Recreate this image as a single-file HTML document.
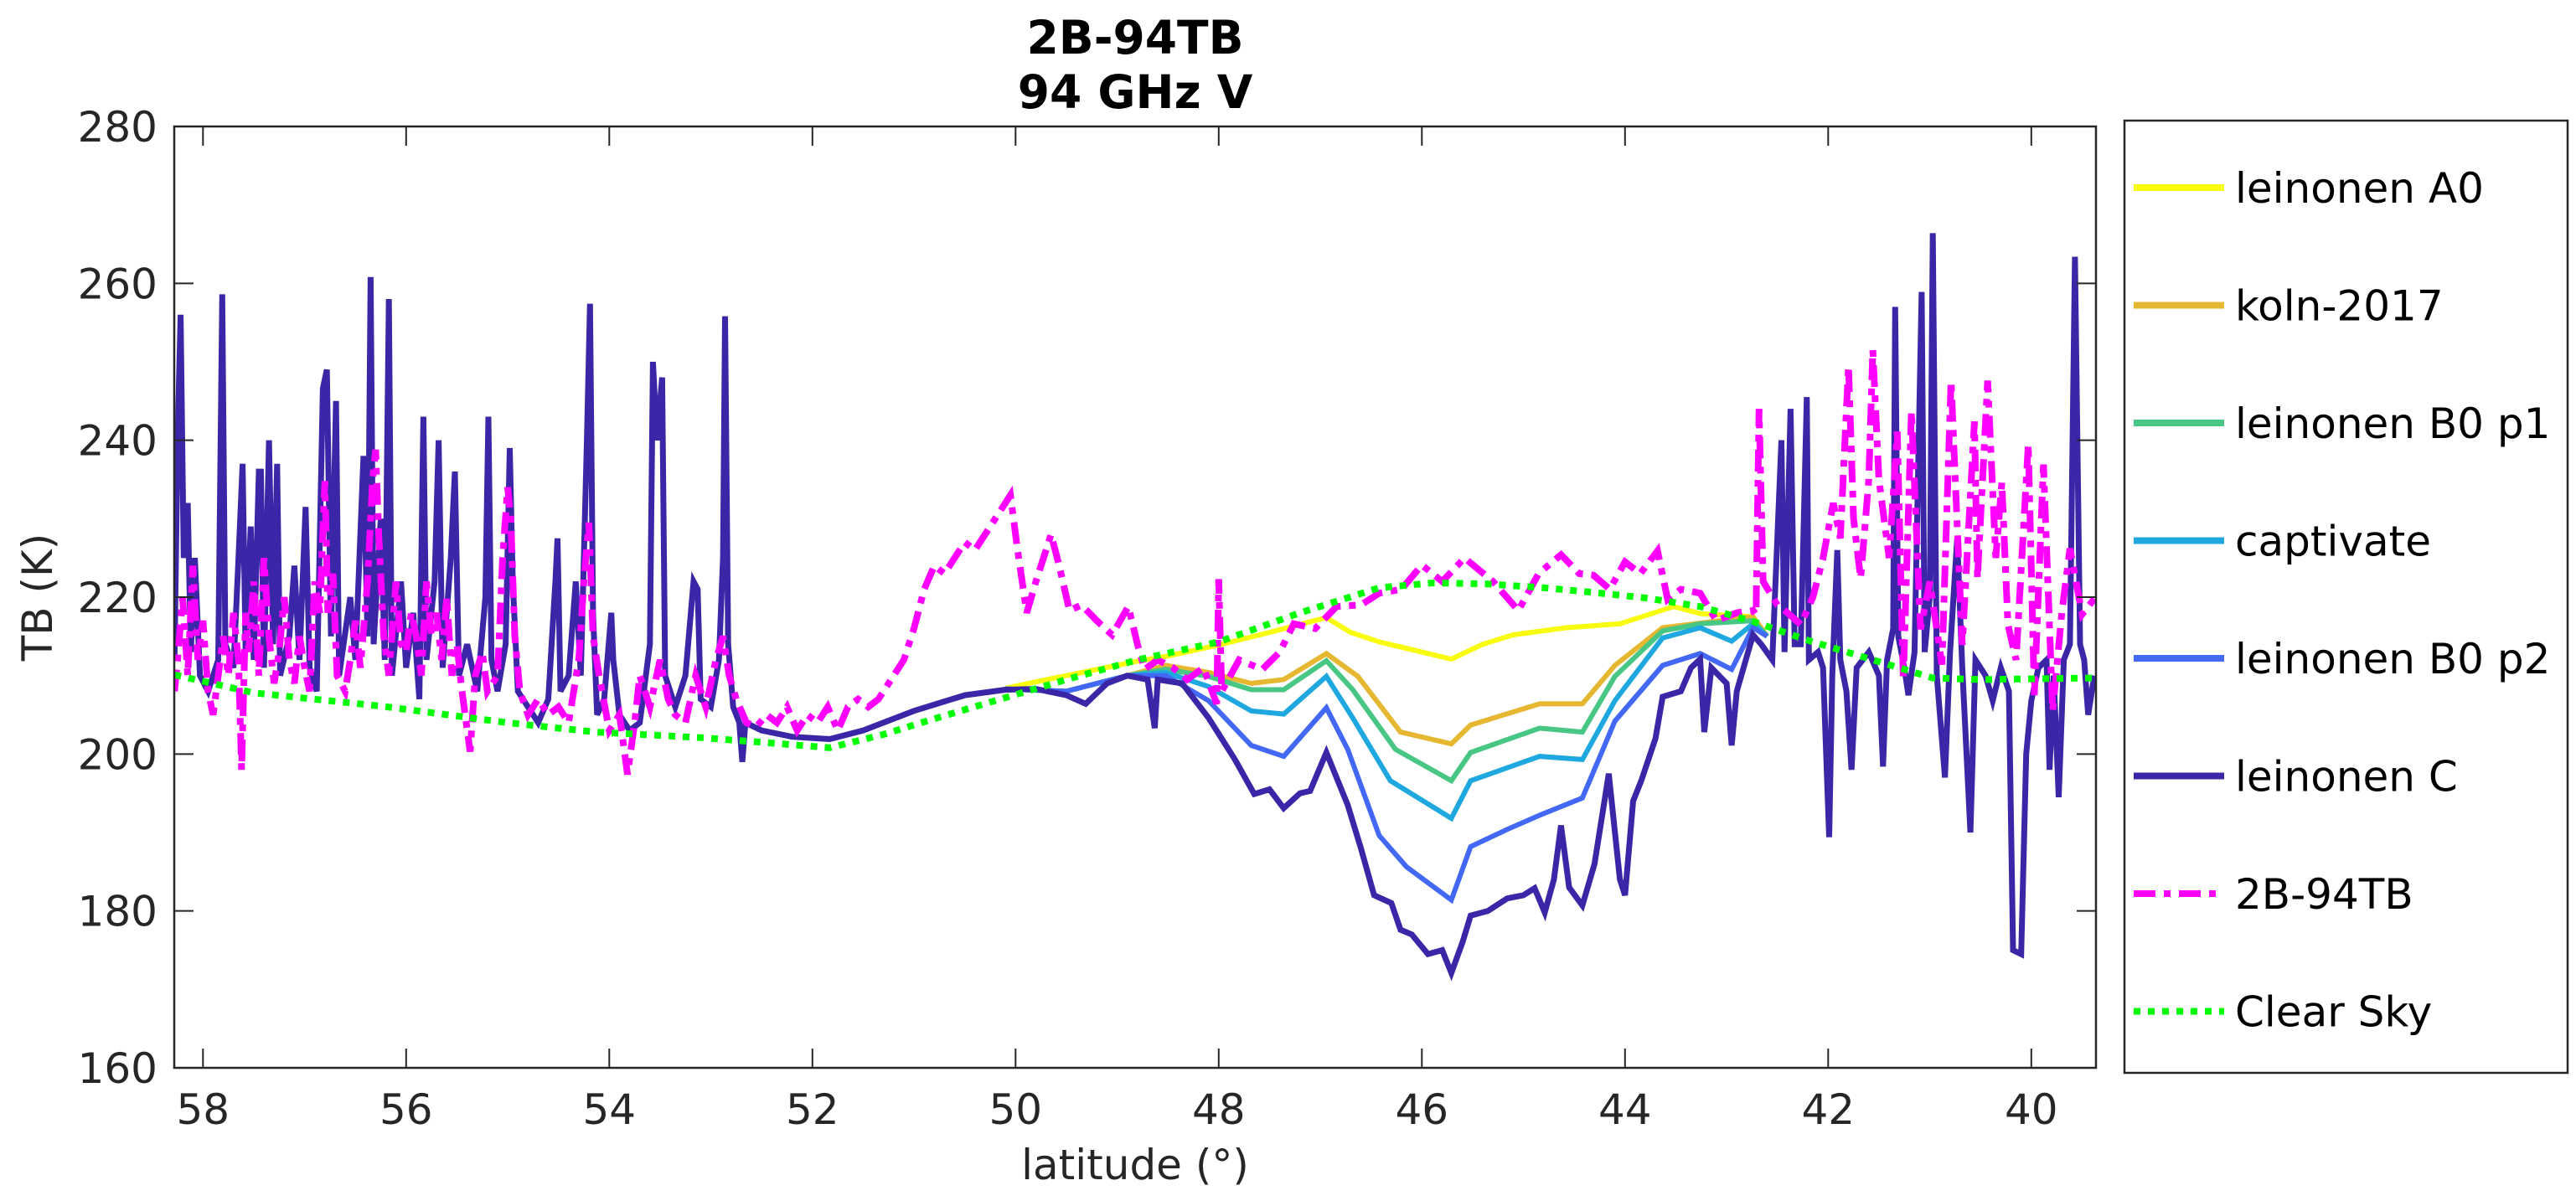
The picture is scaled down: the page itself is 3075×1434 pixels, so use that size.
<!DOCTYPE html>
<html><head><meta charset="utf-8"><style>
html,body{margin:0;padding:0;background:#fff;}
svg{display:block;font-family:"DejaVu Sans","Liberation Sans",sans-serif;}
</style></head><body>
<svg id="chart" width="3075" height="1434" viewBox="0 0 3075 1434" xmlns="http://www.w3.org/2000/svg">
<rect width="3075" height="1434" fill="#fff"/>
<text x="1355" y="64" text-anchor="middle" font-size="55" font-weight="bold" fill="#000">2B-94TB</text>
<text x="1355" y="129" text-anchor="middle" font-size="55" font-weight="bold" fill="#000">94 GHz V</text>
<g id="plot"></g>
<g id="axes"></g>
<text x="1355" y="1408" text-anchor="middle" font-size="50" fill="#262626">latitude (°)</text>
<text transform="translate(62,713) rotate(-90)" text-anchor="middle" font-size="50" fill="#262626">TB (K)</text>
<g id="legend"></g>
</svg>
<script>
const xTicks=[58,56,54,52,50,48,46,44,42,40];
const yTicks=[160,180,200,220,240,260,280];
const seriesNames=["leinonen A0","koln-2017","leinonen B0 p1","captivate","leinonen B0 p2","leinonen C","2B-94TB","Clear Sky"];

const a0Lat=[50.1,49.5,48.78,48.5,48.0,47.5,46.94,46.7,46.42,46.0,45.71,45.4,45.1,44.58,44.05,43.52,43.26,42.74,42.6];
const a0TB=[208.4,210,211.9,212.5,213.9,215.5,217.4,215.5,214.3,213,212.1,214,215.2,216.1,216.6,218.8,217.9,217.5,215];
const kolnLat=[50.1,49.5,48.9,48.52,48.1,47.68,47.36,46.94,46.63,46.21,45.71,45.52,44.84,44.42,44.1,43.63,42.74,42.6];
const kolnTB=[208.3,208,210,211.3,210.4,209,209.5,212.8,209.9,202.8,201.3,203.7,206.4,206.4,211.3,216.1,217.5,215];
const b1Lat=[50.1,49.5,48.9,48.52,48.1,47.68,47.36,46.94,46.68,46.26,45.71,45.52,44.84,44.42,44.1,43.63,43.26,42.74,42.6];
const b1TB=[208.3,208,210,210.8,209.9,208.2,208.2,211.9,208.2,200.6,196.6,200.2,203.3,202.8,209.9,215.7,216.6,217,215];
const capLat=[50.1,49.5,48.9,48.52,48.1,47.68,47.36,46.94,46.68,46.31,45.71,45.52,44.84,44.42,44.1,43.63,43.26,42.95,42.74,42.6];
const capTB=[208.3,208,210,210.4,208.6,205.5,205.1,209.9,204.6,196.6,191.8,196.6,199.7,199.3,206.8,214.8,216.1,214.4,216.6,215];
const b2Lat=[50.1,49.5,48.9,48.52,48.1,47.68,47.36,46.94,46.73,46.42,46.15,45.71,45.52,45.16,44.84,44.42,44.1,43.63,43.26,42.95,42.74,42.6];
const b2TB=[208.3,208,210,210,206.8,201.1,199.7,205.9,200.6,189.6,185.6,181.4,188.2,190.4,192.2,194.4,204.2,211.3,212.8,210.8,216.1,215];
const cLat=[58.28,58.25,58.22,58.19,58.15,58.12,58.08,58.03,57.95,57.85,57.81,57.78,57.70,57.65,57.61,57.58,57.53,57.50,57.45,57.43,57.40,57.35,57.31,57.27,57.24,57.15,57.10,57.05,56.99,56.95,56.88,56.82,56.78,56.74,56.69,56.66,56.55,56.50,56.42,56.38,56.35,56.32,56.25,56.21,56.17,56.14,56.05,56.0,55.93,55.87,55.83,55.80,55.72,55.68,55.64,55.56,55.52,55.48,55.40,55.30,55.22,55.19,55.16,55.10,55.02,54.98,54.95,54.90,54.80,54.70,54.60,54.53,54.51,54.48,54.40,54.33,54.28,54.22,54.19,54.16,54.12,54.05,53.98,53.96,53.90,53.80,53.70,53.6,53.57,53.53,53.48,53.45,53.35,53.25,53.17,53.13,53.10,53.0,52.92,52.88,52.86,52.83,52.78,52.72,52.69,52.66,52.5,52.2,51.83,51.5,51.0,50.5,50.1,49.8,49.5,49.31,49.1,48.9,48.7,48.63,48.6,48.36,48.1,47.84,47.65,47.5,47.36,47.2,47.1,46.94,46.73,46.6,46.47,46.3,46.21,46.1,45.94,45.8,45.71,45.6,45.52,45.35,45.16,45.0,44.89,44.79,44.7,44.63,44.55,44.42,44.3,44.16,44.05,44.0,43.92,43.84,43.7,43.63,43.45,43.35,43.26,43.22,43.15,43.0,42.95,42.9,42.74,42.66,42.55,42.46,42.43,42.37,42.33,42.27,42.21,42.19,42.1,42.05,41.99,41.96,41.91,41.88,41.82,41.77,41.72,41.6,41.5,41.46,41.42,41.36,41.34,41.31,41.25,41.21,41.15,41.08,41.05,41.0,40.97,40.93,40.85,40.8,40.73,40.68,40.6,40.55,40.45,40.38,40.3,40.22,40.18,40.1,40.05,40.0,39.93,39.85,39.82,39.78,39.73,39.68,39.62,39.57,39.52,39.48,39.44,39.38];
const cTB=[212,240,256,225,232,213,225,210,208,212,258.6,214,211,225,237,213,229,212,236,236,211,240,214,237,210,215,224,212,231.5,211,208,246.6,249,215,245,210,220,212,238,215,260.8,214,230,212,258,210,222,211,218,207,243,212,222,240,211,225,236,210,214,208,220,243,212,208,214,239,222,208,206,204,207,222,227.5,208,210,222,210,240,257.4,218,205,207,218,212,205,203,204,214,250,240,248,210,206,210,222,221,207,206,212,225,255.8,214,206,204,199,204,203,202.2,201.9,203,205.5,207.5,208.2,208.3,207.5,206.4,209,210,209.5,203.3,209.5,209,204.6,199.3,194.9,195.5,193.1,195,195.3,200.2,193.5,188,182,181,177.6,177,174.5,175,172.1,176,179.4,180,181.6,182,182.9,179.8,184,190.9,183,180.7,186,197.5,184,182,194,196.6,202,207.3,208,211,212.1,202.8,211,209,201.1,208,215.2,214,212,240,213,244,214,214,245.5,212,213,211,189.4,210,226,212,208,198,211,213,210,198.4,212,216,257,215,211,207.5,213,258.9,213,220,266.4,210,197,213,227.5,211,190,212,210,206.8,211,208,175,174.5,200,206.8,211,212,198,210,194.5,212,214,263.4,214,212,205,210];
const pLat=[58.28,58.25,58.2,58.15,58.1,58.05,58.0,57.95,57.9,57.85,57.8,57.75,57.7,57.65,57.62,57.58,57.55,57.5,57.45,57.4,57.35,57.3,57.25,57.2,57.15,57.1,57.05,57.0,56.95,56.9,56.85,56.8,56.77,56.72,56.68,56.6,56.55,56.5,56.45,56.38,56.33,56.3,56.27,56.22,56.17,56.1,56.05,56.0,55.95,55.9,55.85,55.8,55.75,55.7,55.65,55.6,55.55,55.5,55.45,55.37,55.32,55.25,55.2,55.1,55.05,55.0,54.97,54.93,54.88,54.8,54.7,54.6,54.5,54.4,54.3,54.25,54.2,54.16,54.1,54.0,53.9,53.82,53.75,53.7,53.6,53.5,53.42,53.35,53.25,53.15,53.05,52.95,52.88,52.82,52.75,52.65,52.55,52.45,52.35,52.25,52.15,52.05,51.95,51.85,51.75,51.65,51.55,51.45,51.35,51.2,51.1,51.0,50.9,50.8,50.7,50.6,50.5,50.4,50.3,50.2,50.1,50.05,49.98,49.89,49.8,49.7,49.65,49.57,49.47,49.35,49.2,49.05,48.89,48.8,48.73,48.6,48.45,48.31,48.15,48.02,48.0,47.97,47.8,47.57,47.4,47.26,47.05,46.84,46.6,46.42,46.2,46.0,45.8,45.58,45.3,45.05,44.85,44.63,44.45,44.31,44.15,44.0,43.85,43.68,43.58,43.45,43.26,43.1,42.9,42.74,42.71,42.68,42.64,42.5,42.4,42.27,42.15,42.05,41.95,41.88,41.8,41.75,41.68,41.6,41.56,41.5,41.4,41.32,41.26,41.18,41.09,41.0,40.88,40.79,40.68,40.56,40.53,40.43,40.35,40.29,40.23,40.15,40.03,39.97,39.88,39.79,39.7,39.62,39.5,39.38];
const pTB=[208,212,220,210,224,212,217,208,205,210,215,210,218,212,198,218,213,222,210,225,215,209,213,220,212,209,215,211,208,222,218,234.8,218,223,210,208,212,217,211,222,235,238.8,228,215,210,222,214,213,218,215,210,222,215,218,212,220,210,214,208,200.3,210,213,208,210,225,234,230,215,208,205,207,205,206,204,212,222,229.5,215,210,203,205,197.4,204,210,206,212,207,205,204,210,206,212,215,210,207,204,203.5,205,204,206,203,205,204,206,203,206,207,206,207,210,212,216,221,224,223,225,227,226,228,230,232,233,226,218,222,226,228,224,218.3,219,217,215.2,218.8,214,210.8,212,211,209.5,211,206.4,222.3,208,212,210.8,213,216.6,216,218.8,219,220.5,221,224.1,222,225,222,218.3,223,225.4,223,222.8,221,224.5,223,225.9,219.7,221,220.5,217,218,218.3,217.8,244,222,219,218,216.5,220,225,232,227.5,249.5,230,222.4,235,251.5,235,225,241.1,209.4,243.7,215.9,222,211.4,247.6,213.9,242.4,222.4,247.6,225,234.6,216.5,212,239.5,207.5,236.9,205.5,218,226.2,217.8,219.8];
const csLat=[58.28,57.5,56.24,55.0,54.13,53.1,52.5,51.83,51.3,50.8,50.15,49.5,48.8,48.0,47.2,46.42,45.9,45.37,44.8,44.31,43.8,43.26,42.74,42.2,41.56,40.97,40.5,39.38];
const csTB=[210.1,207.8,206.1,204,202.8,202.1,201.5,200.8,202.5,204.5,207,209.5,212,214.3,218,221.2,221.8,221.7,221.2,220.6,219.9,218.8,216.9,214.5,212,209.7,209.5,209.7];

const L=208,R=2502,T=151,B=1275;
function xs(lat){return 242.3+(58-lat)*121.25;}
function ys(v){return B-(v-160)/120*(B-T);}
const NS="http://www.w3.org/2000/svg";
function mk(tag,attrs,parent){const e=document.createElementNS(NS,tag);for(const k in attrs)e.setAttribute(k,attrs[k]);parent.appendChild(e);return e;}
const plot=document.getElementById('plot');
const cp=mk('clipPath',{id:'clip'},plot);mk('rect',{x:L,y:T,width:R-L,height:B-T},cp);
const styles=[
 {lat:a0Lat,tb:a0TB,c:'#f9fb0e',w:6,d:''},
 {lat:kolnLat,tb:kolnTB,c:'#e6b731',w:6,d:''},
 {lat:b1Lat,tb:b1TB,c:'#48c683',w:6,d:''},
 {lat:capLat,tb:capTB,c:'#1ea8df',w:6,d:''},
 {lat:b2Lat,tb:b2TB,c:'#4268f5',w:6,d:''},
 {lat:cLat,tb:cTB,c:'#3c26a8',w:7,d:''},
 {lat:pLat,tb:pTB,c:'#ff00ff',w:8,d:'26 10 8 10'},
 {lat:csLat,tb:csTB,c:'#00ff00',w:8,d:'8 9'}
];
const seriesKeys=['leinonen-a0','koln-2017','leinonen-b0-p1','captivate','leinonen-b0-p2','leinonen-c','2b-94tb','clear-sky'];
styles.forEach((s,i)=>{
  let d='';
  for(let j=0;j<s.lat.length;j++){d+=(j?'L':'M')+xs(s.lat[j]).toFixed(1)+','+ys(s.tb[j]).toFixed(1);}
  const p=mk('path',{d:d,fill:'none',stroke:s.c,'stroke-width':s.w,'stroke-linejoin':'miter','clip-path':'url(#clip)'},plot);
  if(s.d)p.setAttribute('stroke-dasharray',s.d);
  
  
});
const axes=document.getElementById('axes');
const box=mk('rect',{x:L,y:T,width:R-L,height:B-T,fill:'none',stroke:'#262626','stroke-width':2.5},axes);


xTicks.forEach(t=>{
  const x=xs(t);
  mk('line',{x1:x,y1:B,x2:x,y2:B-23,stroke:'#262626','stroke-width':2},axes);
  mk('line',{x1:x,y1:T,x2:x,y2:T+23,stroke:'#262626','stroke-width':2},axes);
  const tx=mk('text',{x:x,y:1342,'text-anchor':'middle','font-size':50,fill:'#262626'},axes);
  tx.textContent=t;
  
  
});
yTicks.forEach(t=>{
  const y=ys(t);
  mk('line',{x1:L,y1:y,x2:L+23,y2:y,stroke:'#262626','stroke-width':2},axes);
  mk('line',{x1:R,y1:y,x2:R-23,y2:y,stroke:'#262626','stroke-width':2},axes);
  const tx=mk('text',{x:188,y:y+18,'text-anchor':'end','font-size':50,fill:'#262626'},axes);
  tx.textContent=t;
  
  
});
const lg=document.getElementById('legend');
mk('rect',{x:2536,y:144,width:529,height:1137,fill:'#fff',stroke:'#262626','stroke-width':2.5},lg);
styles.forEach((s,i)=>{
  const y=224+i*140.5;
  const ln=mk('line',{x1:2547,y1:y,x2:2655,y2:y,stroke:s.c,'stroke-width':8},lg);
  if(s.d)ln.setAttribute('stroke-dasharray',i===6?'26 10 8 10':'8 9');
  
  
  const tx=mk('text',{x:2668,y:y+18,'font-size':50,fill:'#000'},lg);
  tx.textContent=seriesNames[i];
  
  
});
</script>
</body></html>
